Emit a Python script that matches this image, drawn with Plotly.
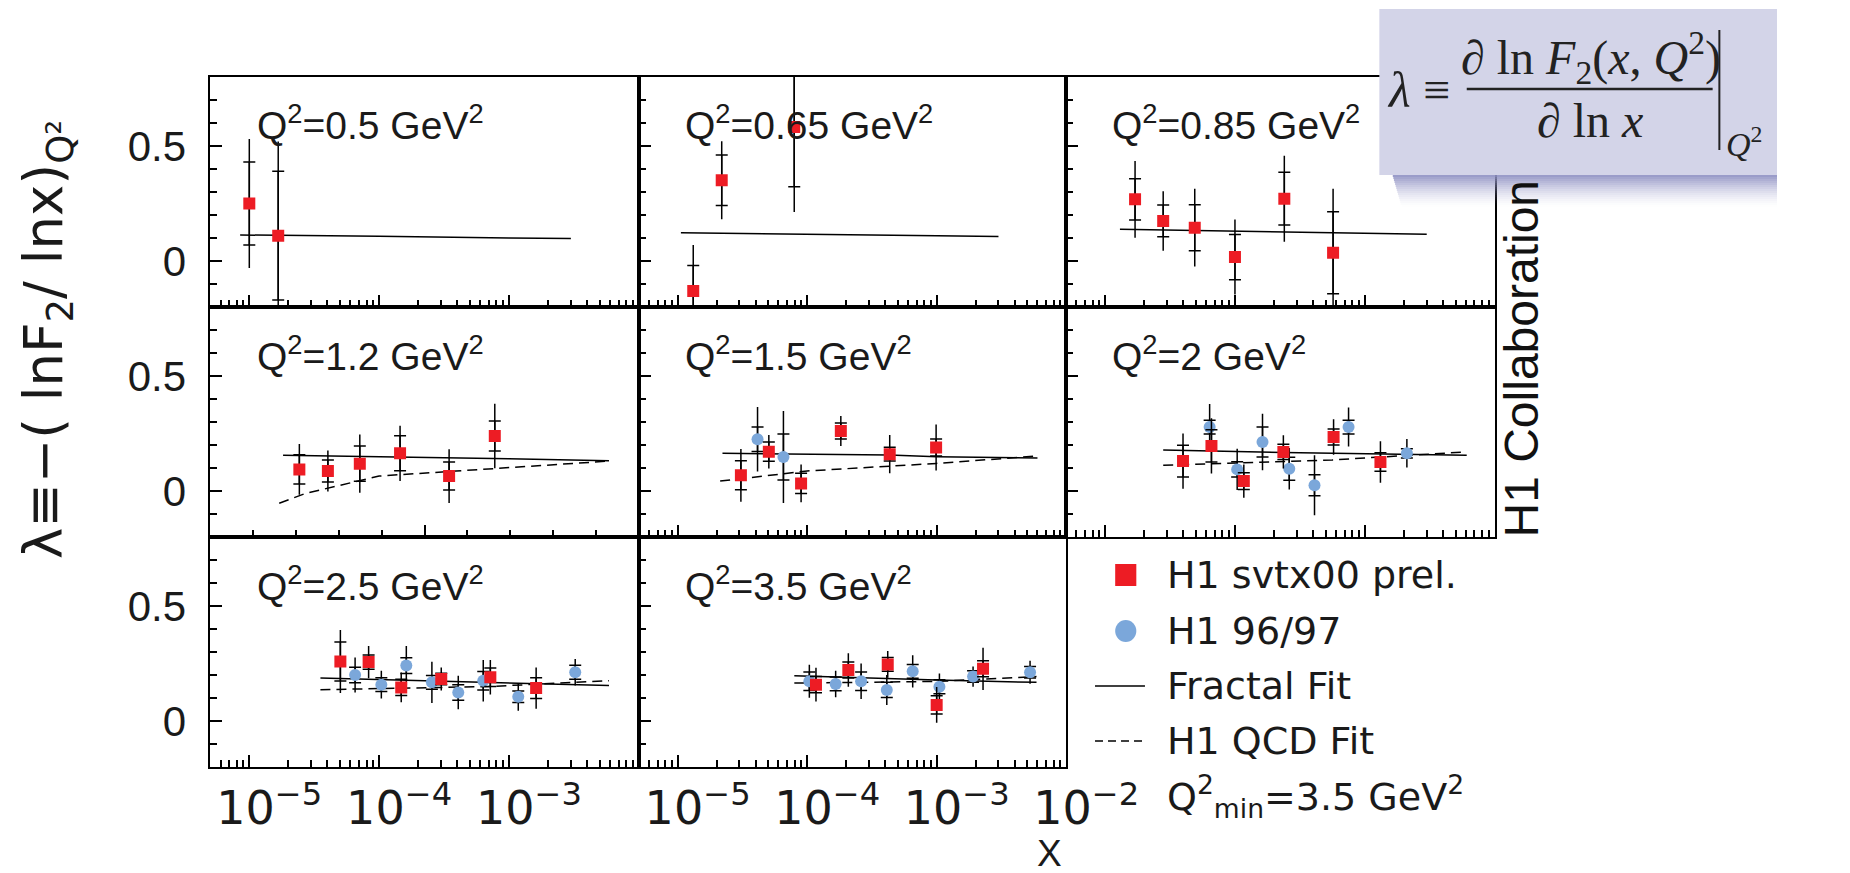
import math
import plotly.graph_objects as go

W, H = 1850, 873

# ---------------- data ----------------
q2_labels = ["Q<sup>2</sup>=0.5 GeV<sup>2</sup>", "Q<sup>2</sup>=0.65 GeV<sup>2</sup>",
             "Q<sup>2</sup>=0.85 GeV<sup>2</sup>", "Q<sup>2</sup>=1.2 GeV<sup>2</sup>",
             "Q<sup>2</sup>=1.5 GeV<sup>2</sup>", "Q<sup>2</sup>=2 GeV<sup>2</sup>",
             "Q<sup>2</sup>=2.5 GeV<sup>2</sup>", "Q<sup>2</sup>=3.5 GeV<sup>2</sup>"]

svtx_x = [[1.0e-5, 1.67e-5],
          [1.32e-5, 2.19e-5, 7.95e-5],
          [1.7e-5, 2.8e-5, 4.9e-5, 1.0e-4, 2.4e-4, 5.7e-4],
          [2.43e-5, 4.03e-5, 7.1e-5, 1.45e-4, 3.46e-4, 7.78e-4],
          [3.08e-5, 5.06e-5, 8.98e-5, 1.82e-4, 4.34e-4, 9.9e-4],
          [3.98e-5, 6.59e-5, 1.17e-4, 2.36e-4, 5.75e-4, 1.32e-3],
          [5.03e-5, 8.3e-5, 1.48e-4, 3.01e-4, 7.19e-4, 1.62e-3],
          [1.17e-4, 2.08e-4, 4.19e-4, 1.0e-3, 2.28e-3]]
svtx_y = [[0.25, 0.11],
          [-0.13, 0.351, 0.583],
          [0.268, 0.174, 0.145, 0.017, 0.271, 0.036],
          [0.094, 0.087, 0.119, 0.164, 0.065, 0.239],
          [0.068, 0.171, 0.033, 0.261, 0.16, 0.189],
          [0.13, 0.196, 0.043, 0.17, 0.235, 0.126],
          [0.259, 0.256, 0.146, 0.183, 0.19, 0.143],
          [0.158, 0.222, 0.246, 0.07, 0.227]]
svtx_stat = [[0.18, 0.28],
             [0.11, 0.11, 0.26],
             [0.09, 0.069, 0.10, 0.098, 0.115, 0.178],
             [0.064, 0.048, 0.077, 0.076, 0.061, 0.065],
             [0.063, 0.042, 0.044, 0.035, 0.03, 0.037],
             [0.069, 0.07, 0.036, 0.033, 0.035, 0.04],
             [0.085, 0.031, 0.035, 0.025, 0.04, 0.045],
             [0.035, 0.035, 0.03, 0.04, 0.035]]
svtx_tot = [[0.28, 0.41],
            [0.20, 0.17, 0.37],
            [0.167, 0.129, 0.169, 0.163, 0.187, 0.278],
            [0.11, 0.089, 0.127, 0.12, 0.117, 0.14],
            [0.115, 0.073, 0.082, 0.065, 0.083, 0.10],
            [0.12, 0.12, 0.072, 0.072, 0.077, 0.09],
            [0.137, 0.07, 0.065, 0.05, 0.075, 0.09],
            [0.073, 0.073, 0.058, 0.078, 0.092]]

h1_x = [[], [], [], [],
        [4.14e-5, 6.56e-5],
        [6.38e-5, 1.04e-4, 1.63e-4, 2.62e-4, 4.1e-4, 7.5e-4, 2.11e-3],
        [6.53e-5, 1.04e-4, 1.62e-4, 2.55e-4, 4.07e-4, 6.34e-4, 1.18e-3, 3.24e-3],
        [1.04e-4, 1.66e-4, 2.61e-4, 4.12e-4, 6.53e-4, 1.05e-3, 1.91e-3, 5.26e-3]]
h1_y = [[], [], [], [],
        [0.225, 0.148],
        [0.278, 0.094, 0.213, 0.097, 0.025, 0.278, 0.164],
        [0.20, 0.158, 0.241, 0.168, 0.124, 0.175, 0.105, 0.212],
        [0.173, 0.161, 0.173, 0.135, 0.216, 0.149, 0.193, 0.212]]
h1_stat = [[], [], [], [],
           [0.053, 0.10],
           [0.03, 0.033, 0.065, 0.05, 0.046, 0.03, 0.02],
           [0.034, 0.03, 0.034, 0.03, 0.034, 0.04, 0.025, 0.03],
           [0.04, 0.03, 0.04, 0.033, 0.03, 0.03, 0.025, 0.025]]
h1_tot = [[], [], [], [],
          [0.14, 0.20],
          [0.10, 0.09, 0.123, 0.09, 0.13, 0.085, 0.062],
          [0.076, 0.06, 0.085, 0.09, 0.073, 0.09, 0.06, 0.058],
          [0.072, 0.058, 0.077, 0.065, 0.07, 0.057, 0.044, 0.05]]

fractal_x = [[8.5e-6, 1e-4, 1e-3, 3e-3],
             [1.06e-5, 1e-4, 1e-3, 3e-3],
             [1.3e-5, 1e-4, 1e-3, 3e-3],
             [1.82e-5, 1e-4, 1e-3, 5.9e-3],
             [2.22e-5, 4.3e-4, 1e-3, 6e-3],
             [2.8e-5, 2.36e-4, 6.1e-3],
             [3.53e-5, 3e-4, 5.9e-3],
             [7.96e-5, 1e-3, 5.9e-3]]
fractal_y = [[0.113, 0.108, 0.100, 0.098],
             [0.123, 0.118, 0.110, 0.107],
             [0.138, 0.130, 0.120, 0.116],
             [0.155, 0.150, 0.140, 0.131],
             [0.164, 0.156, 0.149, 0.143],
             [0.178, 0.167, 0.155],
             [0.187, 0.172, 0.154],
             [0.197, 0.178, 0.168]]

qcd_x = [[], [], [],
         [1.7e-5, 2.7e-5, 1e-4, 7.7e-4, 5.9e-3],
         [2.13e-5, 1e-4, 1e-3, 6e-3],
         [2.8e-5, 1.63e-4, 5.6e-4, 6.1e-3],
         [3.53e-5, 7e-4, 5.9e-3],
         [7.96e-5, 1e-3, 5.9e-3]]
qcd_y = [[], [], [],
         [-0.053, -0.011, 0.065, 0.097, 0.130],
         [0.043, 0.087, 0.120, 0.152],
         [0.112, 0.126, 0.135, 0.170],
         [0.136, 0.150, 0.175],
         [0.165, 0.172, 0.193]]

x_major = [1e-5, 1e-4, 1e-3, 1e-2]
x_major_text = ["10<sup>−5</sup>", "10<sup>−4</sup>", "10<sup>−3</sup>", "10<sup>−2</sup>"]
y_major = [0, 0.5]
y_major_text = ["0", "0.5"]

legend_labels = ["H1 svtx00 prel.", "H1 96/97", "Fractal Fit", "H1 QCD Fit",
                 "Q<sup>2</sup><sub>min</sub>=3.5 GeV<sup>2</sup>"]

# ---------------- styles ----------------
RED = "#ed1c24"
BLUE = "#7ba7da"
XR = [-5.3, -2.0]
YR = [-0.2, 0.8]
COLS = [(219, 665), (665, 1110), (1110, 1556)]
ROWS = [(77, 307), (307, 537), (537, 767)]


def px(x):
    return x / W


def py(y):
    return 1 - y / H


minor_log = [k * 10.0 ** e for e in range(-6, -1) for k in range(2, 10)
             if XR[0] <= math.log10(k * 10.0 ** e) <= XR[1]]

fig = go.Figure()
layout = dict(width=W, height=H, margin=dict(l=0, r=0, t=0, b=0),
              paper_bgcolor="white", plot_bgcolor="white", showlegend=False)

for i in range(8):
    r, c = divmod(i, 3)
    xa = "x" if i == 0 else f"x{i+1}"
    ya = "y" if i == 0 else f"y{i+1}"
    xkey = "xaxis" if i == 0 else f"xaxis{i+1}"
    ykey = "yaxis" if i == 0 else f"yaxis{i+1}"
    L, R = COLS[c]
    T, B = ROWS[r]
    xaxis = dict(type="log", range=XR, domain=[px(L), px(R)], anchor=ya,
                 showline=True, linecolor="black", linewidth=1.8, mirror=True,
                 showgrid=False, zeroline=False, ticks="inside", ticklen=12,
                 tickwidth=1.5, tickcolor="black",
                 tickmode="array", tickvals=x_major[:3], ticktext=x_major_text[:3],
                 showticklabels=False,
                 minor=dict(tickmode="array", tickvals=minor_log, ticks="inside",
                            ticklen=7, tickwidth=1.5, tickcolor="black"),
                 tickfont=dict(family="DejaVu Sans", size=46, color="#1a1a1a"),
                 ticklabelshift=20, ticklabelstandoff=0)
    if i == 3:
        lin = [10 ** (XR[0] + (XR[1] - XR[0]) * k / 10) for k in range(1, 10)]
        xaxis["tickvals"] = [lin[4]]
        xaxis["minor"] = dict(tickmode="array", tickvals=lin[:4] + lin[5:], ticks="inside",
                              ticklen=7, tickwidth=1.5, tickcolor="black")
    if r == 2:
        xaxis["showticklabels"] = True
        if i == 7:
            xaxis["tickvals"] = x_major
            xaxis["ticktext"] = x_major_text
    yaxis = dict(range=YR, domain=[py(B), py(T)], anchor=xa,
                 showline=True, linecolor="black", linewidth=1.8, mirror=True,
                 showgrid=False, zeroline=False, ticks="inside", ticklen=12,
                 tickwidth=1.5, tickcolor="black",
                 tickmode="array", tickvals=y_major, ticktext=y_major_text,
                 showticklabels=(c == 0),
                 minor=dict(dtick=0.1, tick0=0, ticks="inside", ticklen=7,
                            tickwidth=1.5, tickcolor="black"),
                 tickfont=dict(family="Liberation Sans", size=42, color="#1a1a1a"),
                 ticklabelstandoff=14)
    layout[xkey] = xaxis
    layout[ykey] = yaxis

    # fits
    fig.add_trace(go.Scatter(x=fractal_x[i], y=fractal_y[i], mode="lines",
                             line=dict(color="black", width=1.5), xaxis=xa, yaxis=ya,
                             hoverinfo="skip"))
    if qcd_x[i]:
        fig.add_trace(go.Scatter(x=qcd_x[i], y=qcd_y[i], mode="lines",
                                 line=dict(color="black", width=1.5, dash="10px,6px"),
                                 xaxis=xa, yaxis=ya, hoverinfo="skip"))
    # error bars + markers
    for xs, ys, st, tt, sym, col in [(h1_x[i], h1_y[i], h1_stat[i], h1_tot[i], "circle", BLUE),
                                     (svtx_x[i], svtx_y[i], svtx_stat[i], svtx_tot[i], "square", RED)]:
        if not xs:
            continue
        fig.add_trace(go.Scatter(x=xs, y=ys, mode="markers",
                                 marker=dict(size=1, color="rgba(0,0,0,0)"),
                                 error_y=dict(type="data", array=tt, width=0,
                                              thickness=1.5, color="black"),
                                 xaxis=xa, yaxis=ya, hoverinfo="skip"))
        fig.add_trace(go.Scatter(x=xs, y=ys, mode="markers",
                                 marker=dict(size=1, color="rgba(0,0,0,0)"),
                                 error_y=dict(type="data", array=st, width=6,
                                              thickness=1.5, color="black"),
                                 xaxis=xa, yaxis=ya, hoverinfo="skip"))
        fig.add_trace(go.Scatter(x=xs, y=ys, mode="markers",
                                 marker=dict(size=12, symbol=sym, color=col,
                                             line=dict(width=0)),
                                 xaxis=xa, yaxis=ya, hoverinfo="skip"))

fig.update_layout(**layout)

ann = []
shapes = []

# Q^2 panel labels
for i in range(8):
    r, c = divmod(i, 3)
    L, R = COLS[c]
    T, B = ROWS[r]
    ann.append(dict(text=q2_labels[i], xref="paper", yref="paper",
                    x=px(L + 46), y=py(T + 46), xanchor="left", yanchor="middle",
                    showarrow=False,
                    font=dict(family="Liberation Sans", size=39, color="#1a1a1a")))

# y-axis title
ann.append(dict(text="λ≡−( lnF<sub>2</sub>/ lnx)<sub>Q²</sub>", xref="paper", yref="paper",
                x=px(50), y=py(340), xanchor="center", yanchor="middle", textangle=-90,
                showarrow=False, font=dict(family="DejaVu Sans", size=53, color="#1a1a1a")))
# x-axis title
ann.append(dict(text="X", xref="paper", yref="paper", x=px(1093), y=py(853),
                xanchor="center", yanchor="middle", showarrow=False,
                font=dict(family="Liberation Sans", size=37, color="#1a1a1a")))
# H1 Collaboration
ann.append(dict(text="H1 Collaboration", xref="paper", yref="paper", x=px(1584), y=py(358),
                xanchor="center", yanchor="middle", textangle=-90, showarrow=False,
                font=dict(family="Liberation Sans", size=48, color="#111111")))

# legend
leg_y = [575, 631, 686, 741, 796]
for lab, yy in zip(legend_labels, leg_y):
    ann.append(dict(text=lab, xref="paper", yref="paper", x=px(1213), y=py(yy),
                    xanchor="left", yanchor="middle", showarrow=False,
                    font=dict(family="DejaVu Sans", size=38, color="#1a1a1a")))
shapes.append(dict(type="rect", xref="paper", yref="paper", x0=px(1161), x1=px(1183),
                   y0=py(586), y1=py(564), fillcolor=RED, line=dict(width=0)))
shapes.append(dict(type="circle", xref="paper", yref="paper", x0=px(1161), x1=px(1183),
                   y0=py(642), y1=py(620), fillcolor=BLUE, line=dict(width=0)))
shapes.append(dict(type="line", xref="paper", yref="paper", x0=px(1140), x1=px(1192),
                   y0=py(686), y1=py(686), line=dict(color="black", width=1.5)))
shapes.append(dict(type="line", xref="paper", yref="paper", x0=px(1140), x1=px(1192),
                   y0=py(741), y1=py(741), line=dict(color="black", width=1.5, dash="8px,5px")))

# formula box with soft shadow
nsteps = 16
for k in range(nsteps):
    op = 0.9 * (1 - k / nsteps) ** 1.6
    shapes.append(dict(type="rect", xref="paper", yref="paper", x0=px(1450 + k * 0.6), x1=1,
                       y0=py(175 + 2 * (k + 1)), y1=py(175 + 2 * k),
                       fillcolor="#8f91c3", opacity=op, line=dict(width=0), layer="above"))
shapes.append(dict(type="rect", xref="paper", yref="paper", x0=px(1436), x1=1,
                   y0=py(175), y1=py(9), fillcolor="#d3d4e8", line=dict(width=0),
                   layer="above"))
shapes.append(dict(type="line", xref="paper", yref="paper", x0=px(1527), x1=px(1783),
                   y0=py(89), y1=py(89), line=dict(color="#222222", width=2.5), layer="above"))
shapes.append(dict(type="line", xref="paper", yref="paper", x0=px(1790), x1=px(1790),
                   y0=py(30), y1=py(150), line=dict(color="#222222", width=2), layer="above"))

serif = dict(family="Liberation Serif", color="#222222")
ann.append(dict(text="<i>λ</i>", xref="paper", yref="paper", x=px(1456), y=py(90),
                xanchor="center", yanchor="middle", showarrow=False, font=dict(size=50, **serif)))
ann.append(dict(text="≡", xref="paper", yref="paper", x=px(1496), y=py(90),
                xanchor="center", yanchor="middle", showarrow=False, font=dict(size=48, **serif)))
ann.append(dict(text="∂ ln <i>F</i><sub>2</sub>(<i>x</i>, <i>Q</i><sup>2</sup>)",
                xref="paper", yref="paper", x=px(1656), y=py(58),
                xanchor="center", yanchor="middle", showarrow=False, font=dict(size=48, **serif)))
ann.append(dict(text="∂ ln <i>x</i>", xref="paper", yref="paper", x=px(1655), y=py(121),
                xanchor="center", yanchor="middle", showarrow=False, font=dict(size=48, **serif)))
ann.append(dict(text="<i>Q</i><sup>2</sup>", xref="paper", yref="paper", x=px(1795), y=py(142),
                xanchor="left", yanchor="middle", showarrow=False, font=dict(size=34, **serif)))

fig.update_layout(annotations=ann, shapes=shapes)
fig.write_html("out.html")
